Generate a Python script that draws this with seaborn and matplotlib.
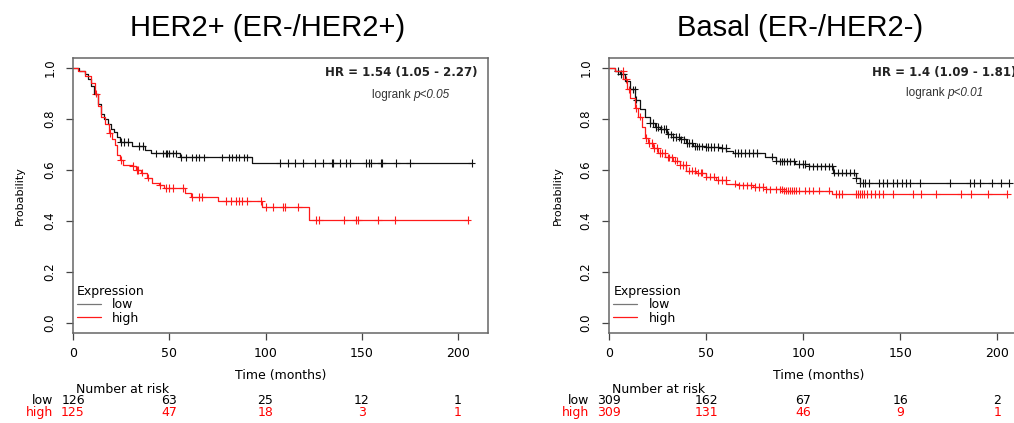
import numpy as np
import pandas as pd
import seaborn as sns
import matplotlib.pyplot as plt
from matplotlib.transforms import blended_transform_factory

# ---- data ----
# HER2+ panel
her2_low_t = [0, 3, 6, 7.8, 9.5, 11, 12.8, 14.5, 16.2, 18, 19.7, 21.5, 23, 24.2,
              30.5, 37.5, 40.5, 55.5, 92.8, 207]
her2_low_s = [1.0, 0.99, 0.976, 0.957, 0.93, 0.90, 0.86, 0.82, 0.80, 0.78, 0.76, 0.75,
              0.73, 0.71, 0.695, 0.68, 0.665, 0.65, 0.628, 0.628]
her2_high_t = [0, 2.5, 6, 9.5, 11.2, 12.9, 14.7, 16.5, 18.5, 20, 21.6, 22.8, 24.5,
               26.2, 31, 32.5, 35.5, 38.5, 41, 44.5, 47.5, 58, 61.5, 75.5, 98, 122.8, 205]
her2_high_s = [1.0, 0.99, 0.97, 0.94, 0.90, 0.85, 0.81, 0.78, 0.745, 0.72, 0.70, 0.66,
               0.64, 0.62, 0.615, 0.60, 0.59, 0.57, 0.55, 0.54, 0.53, 0.51, 0.495,
               0.478, 0.456, 0.403, 0.403]
her2_low_cens = [25, 26.7, 28.4, 34.5, 36.2, 43, 46.6, 48.3, 49, 50, 51.7, 53.4, 56,
                 58.6, 62, 63.8, 65.5, 68, 77.6, 81, 82.8, 84.5, 86, 88.8, 90.5,
                 107.5, 111.8, 115.3, 119.6, 125.7, 130, 134.4, 135, 138.7, 142, 144,
                 152, 153.5, 155, 160, 160.5, 168, 175, 207]
her2_high_cens = [12, 19, 25, 31, 33, 33.6, 36, 39, 45, 48.3, 50, 51.7, 57, 62, 65.5,
                  67, 79.3, 82, 84.5, 86, 88, 90.5, 97.5, 100, 104, 109, 110, 117,
                  126, 128, 141, 147, 148, 158.4, 167, 205]

# Basal panel
basal_low_t = [0, 3, 5.5, 8, 10.6, 13.2, 15.8, 18.3, 20.9, 23.5, 26, 29.5, 32.9, 36.3,
               39.7, 43.2, 50, 56.8, 60.3, 63.7, 80, 86, 88, 95.5, 103, 115.5, 127, 129, 206]
basal_low_s = [1.0, 0.99, 0.976, 0.95, 0.917, 0.877, 0.838, 0.81, 0.785, 0.77, 0.76,
               0.74, 0.73, 0.72, 0.706, 0.693, 0.69, 0.686, 0.673, 0.666, 0.653, 0.637,
               0.634, 0.623, 0.614, 0.59, 0.568, 0.55, 0.55]
basal_high_t = [0, 3, 7.2, 8.9, 10.6, 13.2, 14.9, 16.6, 18.3, 20, 22.6, 25.2, 28.6,
                32.9, 36.3, 39.7, 44.9, 50, 55, 60.3, 67, 74, 80.8, 90, 115, 205]
basal_high_s = [1.0, 0.99, 0.956, 0.917, 0.884, 0.844, 0.81, 0.77, 0.726, 0.706, 0.686,
                0.666, 0.65, 0.637, 0.62, 0.598, 0.59, 0.574, 0.56, 0.547, 0.54, 0.534,
                0.524, 0.519, 0.506, 0.506]
basal_low_cens = [4.6, 5.8, 7, 12, 13, 14, 21, 22.5, 24, 25, 26.5, 28, 29, 30.5, 32,
                  33, 34.5, 36, 37, 38.5, 40, 41, 42.5, 44, 45, 46, 48, 50, 51, 52.5,
                  54, 56, 58, 60, 65, 66.5, 68, 70, 72, 74, 76, 84, 86, 88, 89, 90,
                  91.5, 93, 95, 98, 100, 101, 103, 105, 107, 109, 111, 113, 115, 116,
                  118, 120, 122, 124, 126, 127, 129, 130.5, 132, 134, 139, 141, 143,
                  146, 148, 151, 153, 155, 160, 175.4, 186, 188, 191, 197, 202, 206]
basal_high_cens = [7, 8.5, 10, 14, 16, 19, 20.5, 22, 23, 24.5, 26, 27, 28.5, 30, 31,
                   32.5, 34, 35, 36.5, 38, 39.5, 41, 42.5, 44, 45.5, 47, 48, 50, 52,
                   54, 56, 58, 60, 65, 67, 69, 71, 73, 75, 77, 79, 81, 83, 86, 88, 89,
                   90, 91, 92, 93, 94, 95, 96, 98, 101, 103, 105, 108, 113, 117, 118.5,
                   120, 127, 128, 129, 130, 131, 133, 135, 137, 139, 141, 146, 156.5,
                   160.5, 168.5, 181.3, 186.4, 195, 205]

risk_times = [0, 50, 100, 150, 200]
her2_risk_low = [126, 63, 25, 12, 1]
her2_risk_high = [125, 47, 18, 3, 1]
basal_risk_low = [309, 162, 67, 16, 2]
basal_risk_high = [309, 131, 46, 9, 1]

panels = [
    dict(title="HER2+ (ER-/HER2+)", hr="HR = 1.54 (1.05 - 2.27)", p="p<0.05",
         low=(her2_low_t, her2_low_s, her2_low_cens),
         high=(her2_high_t, her2_high_s, her2_high_cens),
         risk_low=her2_risk_low, risk_high=her2_risk_high,
         pos=[73 / 1014, 1 - 333 / 423, 414.7 / 1014, 275 / 423],
         title_x=268 / 1014, p_x=174, p_y=0.894, ylab_x=-0.128),
    dict(title="Basal (ER-/HER2-)", hr="HR = 1.4 (1.09 - 1.81)", p="p<0.01",
         low=(basal_low_t, basal_low_s, basal_low_cens),
         high=(basal_high_t, basal_high_s, basal_high_cens),
         risk_low=basal_risk_low, risk_high=basal_risk_high,
         pos=[609.3 / 1014, 1 - 333 / 423, 418 / 1014, 275 / 423],
         title_x=800 / 1014, p_x=171.5, p_y=0.904, ylab_x=-0.123),
]

sns.set_style("white")
plt.rcParams['font.family'] = ['DejaVu Sans']
plt.rcParams['text.color'] = 'black'
plt.rcParams['axes.labelcolor'] = 'black'
plt.rcParams['xtick.color'] = 'black'
plt.rcParams['ytick.color'] = 'black'

colors = {'low': '#111111', 'high': '#ff1a1a'}
fig = plt.figure(figsize=(10.14, 4.23), dpi=100)

for pnl in panels:
    ax = fig.add_axes(pnl['pos'])
    curves = []
    marks = []
    for grp in ['low', 'high']:
        t, s, cens = pnl[grp]
        curves.append(pd.DataFrame({'time': t, 'surv': s, 'group': grp}))
        idx = np.searchsorted(t, cens, side='right') - 1
        marks.append(pd.DataFrame({'time': cens, 'surv': np.array(s)[idx], 'group': grp}))
    curves = pd.concat(curves)
    marks = pd.concat(marks)

    sns.lineplot(data=curves, x='time', y='surv', hue='group', hue_order=['low', 'high'],
                 palette=colors, estimator=None, drawstyle='steps-post', lw=0.9,
                 legend=False, ax=ax)
    sns.scatterplot(data=marks, x='time', y='surv', hue='group', hue_order=['low', 'high'],
                    palette=colors, marker='+', s=30, linewidth=0.8, legend=False, ax=ax)

    ax.set_xlim(0, 215.4)
    ax.set_ylim(-0.04, 1.04)
    ax.set_xticks(risk_times)
    ax.set_yticks([0, 0.2, 0.4, 0.6, 0.8, 1.0])
    ax.set_yticklabels(['0.0', '0.2', '0.4', '0.6', '0.8', '1.0'])
    ax.tick_params(axis='both', direction='out', length=5, width=0.9, color='#444444',
                   labelsize=9, left=True, bottom=True)
    ax.tick_params(axis='y', pad=7, labelsize=8.5)
    ax.tick_params(axis='x', pad=5)
    for lab in ax.get_yticklabels():
        lab.set_rotation(90)
        lab.set_va('center')
    for sp in ax.spines.values():
        sp.set_color('#666666')
        sp.set_linewidth(1.1)

    ax.set_xlabel('Time (months)', fontsize=9)
    ax.xaxis.set_label_coords(0.5, -0.156)
    ax.xaxis.label.set_va('center')
    ax.set_ylabel('Probability', fontsize=8)
    ax.yaxis.set_label_coords(pnl['ylab_x'], 0.5)
    ax.yaxis.label.set_va('center')

    leg = ax.legend(handles=ax.lines[:2], labels=['low', 'high'], title='Expression',
                    loc='lower left', bbox_to_anchor=(0.01, 0.03), frameon=False,
                    alignment='left', fontsize=9, title_fontsize=9, handlelength=1.9,
                    handletextpad=0.9, labelspacing=0.05, borderpad=0, borderaxespad=0)
    leg.get_lines()[0].set_color('#777777')

    ax.text(210, 0.985, pnl['hr'], ha='right', va='center', fontsize=8.5,
            fontweight='bold', color='#222222', clip_on=False)
    t1 = ax.text(pnl['p_x'] - 8, pnl['p_y'], 'logrank ', ha='center', va='center',
                 fontsize=8.5, color='#333333', family='Liberation Sans')
    ax.annotate(pnl['p'], xy=(1, 0), xycoords=t1, ha='left', va='bottom',
                fontsize=8.5, color='#333333', family='Liberation Sans',
                fontstyle='italic')

    tr = blended_transform_factory(ax.transData, fig.transFigure)
    ax.text(25.5, 1 - 389 / 423, 'Number at risk', transform=tr, ha='center',
            va='center', fontsize=9)
    ax.text(-10.5, 1 - 400.7 / 423, 'low', transform=tr, ha='right', va='center',
            fontsize=9, color='black')
    ax.text(-10.5, 1 - 412.7 / 423, 'high', transform=tr, ha='right', va='center',
            fontsize=9, color='red')
    for x, nl, nh in zip(risk_times, pnl['risk_low'], pnl['risk_high']):
        ax.text(x, 1 - 400.7 / 423, str(nl), transform=tr, ha='center', va='center',
                fontsize=9, color='black')
        ax.text(x, 1 - 412.7 / 423, str(nh), transform=tr, ha='center', va='center',
                fontsize=9, color='red')

    fig.text(pnl['title_x'], 1 - 36 / 423, pnl['title'], ha='center', va='baseline',
             fontsize=21, family='Liberation Sans', color='black')

fig.savefig('out.png', dpi=100)
